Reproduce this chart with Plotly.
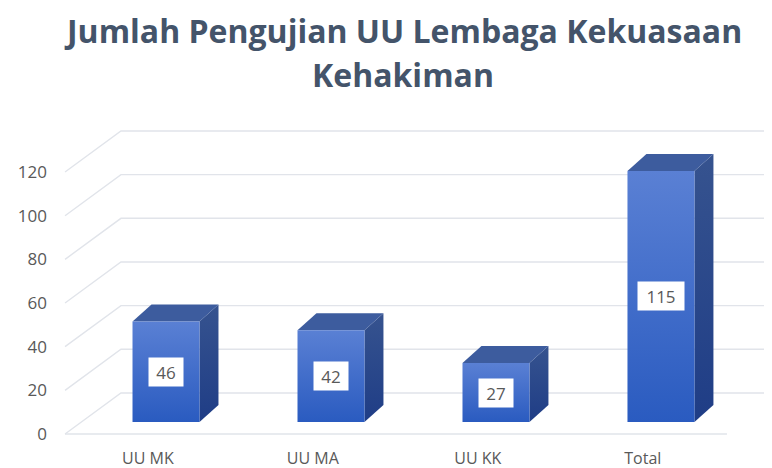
import plotly.graph_objects as go

# ---- data ----
categories = ["UU MK", "UU MA", "UU KK", "Total"]
values = [46, 42, 27, 115]
y_ticks = [0, 20, 40, 60, 80, 100, 120]
title_line1 = "Jumlah Pengujian UU Lembaga Kekuasaan"
title_line2 = "Kehakiman"

# ---- pseudo-3D geometry (in axis units) ----
BAR_HALF = 0.203      # half width of bar front face (x units)
BAR_LIFT = 5.5        # front face of bars sits above floor front edge (y units)
DEPTH_X = 0.115       # bar depth, x units
DEPTH_Y = 7.8         # bar depth, y units
WALL_DY = 18.8        # back wall offset (y units)
FRONT_LEFT = -0.612
BACK_LEFT = -0.273
FLOOR_RIGHT = 3.40
X_MIN, X_MAX = -0.691, 3.673
Y_MIN, Y_MAX = -5.04, 148.42

FRONT_TOP = "#5a80d4"
FRONT_BOTTOM = "#2a5bc0"
TOP_COLOR = "#3d5c9e"
SIDE_TOP = "#36538f"
SIDE_BOTTOM = "#1f3d86"
GRID = "#e1e4ea"
TEXT = "#595959"
TITLE = "#44546a"

fig = go.Figure()

# back wall gridlines + diagonal side-wall lines
for v in y_ticks:
    fig.add_trace(go.Scatter(
        x=[FRONT_LEFT, BACK_LEFT, X_MAX + 0.05],
        y=[v, v + WALL_DY, v + WALL_DY],
        mode="lines", line=dict(color=GRID, width=1.4),
        hoverinfo="skip", showlegend=False))

# floor front edge
fig.add_trace(go.Scatter(
    x=[FRONT_LEFT, FLOOR_RIGHT], y=[0, 0],
    mode="lines", line=dict(color=GRID, width=1.6),
    hoverinfo="skip", showlegend=False))

# bars
for i, v in enumerate(values):
    x0, x1 = i - BAR_HALF, i + BAR_HALF
    yb, yt = BAR_LIFT, BAR_LIFT + v
    # side face
    fig.add_trace(go.Scatter(
        x=[x1, x1 + DEPTH_X, x1 + DEPTH_X, x1, x1],
        y=[yb, yb + DEPTH_Y, yt + DEPTH_Y, yt, yb],
        mode="lines", fill="toself", line=dict(width=0),
        fillgradient=dict(type="vertical",
                          colorscale=[[0, SIDE_BOTTOM], [1, SIDE_TOP]]),
        hoverinfo="skip", showlegend=False))
    # top face
    fig.add_trace(go.Scatter(
        x=[x0, x1, x1 + DEPTH_X, x0 + DEPTH_X, x0],
        y=[yt, yt, yt + DEPTH_Y, yt + DEPTH_Y, yt],
        mode="lines", fill="toself", fillcolor=TOP_COLOR, line=dict(width=0),
        hoverinfo="skip", showlegend=False))
    # front face
    fig.add_trace(go.Scatter(
        x=[x0, x1, x1, x0, x0],
        y=[yb, yb, yt, yt, yb],
        mode="lines", fill="toself", line=dict(width=0),
        fillgradient=dict(type="vertical",
                          colorscale=[[0, FRONT_BOTTOM], [1, FRONT_TOP]]),
        hoverinfo="skip", showlegend=False))
    # value label
    fig.add_annotation(
        x=i, y=BAR_LIFT + v / 2, xref="x", yref="y",
        text=str(v), showarrow=False,
        font=dict(family="Open Sans", size=17, color=TEXT),
        bgcolor="white", borderpad=4, width=12 * len(str(v)) + 2, height=20)

# title
fig.add_annotation(x=0.4875, y=1.2388, xref="paper", yref="paper",
                   text="<b>%s</b>" % title_line1, showarrow=False,
                   xanchor="center", yanchor="middle",
                   font=dict(family="Open Sans", size=32, color=TITLE))
fig.add_annotation(x=0.4875, y=1.1045, xref="paper", yref="paper",
                   text="<b>%s</b>" % title_line2, showarrow=False,
                   xanchor="center", yanchor="middle",
                   font=dict(family="Open Sans", size=32, color=TITLE))

# the page body keeps an 8px default margin, so the figure is sized to the
# remaining viewport
fig.update_layout(
    width=764, height=460,
    margin=dict(l=44, r=0, t=102, b=23),
    paper_bgcolor="white", plot_bgcolor="white",
    showlegend=False,
    font=dict(family="Open Sans", color=TEXT),
)
fig.update_xaxes(
    range=[X_MIN, X_MAX], showgrid=False, zeroline=False, showline=False,
    tickmode="array", tickvals=[i - 0.11 for i in range(len(categories))],
    ticktext=categories, ticks="", tickfont=dict(size=16, color=TEXT),
    ticklabelstandoff=2)
fig.update_yaxes(
    range=[Y_MIN, Y_MAX], showgrid=False, zeroline=False, showline=False,
    tickmode="array", tickvals=y_ticks, ticks="",
    tickfont=dict(size=17, color=TEXT), ticklabelstandoff=4)

fig.write_html("out.html")
